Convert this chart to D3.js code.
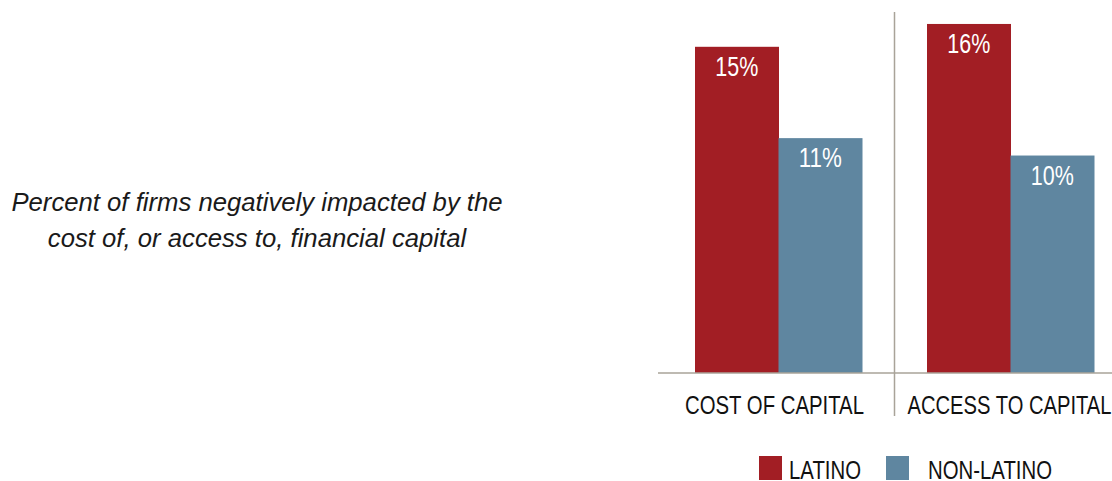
<!DOCTYPE html>
<html>
<head>
<meta charset="utf-8">
<script src="https://cdn.jsdelivr.net/npm/d3@7"></script>
<style>
  html, body { margin: 0; padding: 0; background: #fff; }
  svg { display: block; }
</style>
</head>
<body>
<svg id="chart" width="1112" height="481"></svg>
<script>
const categories = ["COST OF CAPITAL", "ACCESS TO CAPITAL"];
const seriesNames = ["LATINO", "NON-LATINO"];
const latino = [15, 16.05];
const nonLatino = [10.8, 10];
const titleLines = ["Percent of firms negatively impacted by the", "cost of, or access to, financial capital"];

const colors = { "LATINO": "#A21E24", "NON-LATINO": "#5F86A0" };
const data = categories.map((c, i) => ({ cat: c, values: [
  { key: "LATINO", v: latino[i] },
  { key: "NON-LATINO", v: nonLatino[i] }
]}));

const FONT = "'Liberation Sans', 'Arial', sans-serif";
const svg = d3.select("#chart");
const baseY = 373, topY = 12;

const x0 = d3.scaleBand().domain(categories).range([662.5, 1126.5]).padding(0);
const x1 = d3.scaleBand().domain(seriesNames).range([32.5, x0.bandwidth() - 32.5]).padding(0);
const y = d3.scaleLinear().domain([0, 16.6]).range([baseY, topY]);

// condense text to a target width, like the narrow face of the original
function condense(sel, widthFn) {
  sel.each(function(d, i) {
    const w = widthFn(d, i);
    d3.select(this).attr("textLength", w).attr("lengthAdjust", "spacingAndGlyphs");
  });
}

// bars
const g = svg.append("g");
const groups = g.selectAll("g.grp").data(data).enter().append("g")
  .attr("transform", d => `translate(${x0(d.cat)},0)`);
groups.selectAll("rect").data(d => d.values).enter().append("rect")
  .attr("x", d => x1(d.key))
  .attr("width", x1.bandwidth() + 0.5)
  .attr("y", d => y(d.v))
  .attr("height", d => y(0) - y(d.v))
  .attr("fill", d => colors[d.key]);
groups.selectAll("text.val").data(d => d.values).enter().append("text")
  .attr("class", "val")
  .attr("x", d => x1(d.key) + x1.bandwidth() / 2)
  .attr("y", d => y(d.v) + 29)
  .attr("text-anchor", "middle")
  .attr("fill", "#fff")
  .style("font-family", FONT)
  .style("font-size", "27px")
  .text(d => Math.round(d.v) + "%")
  .call(condense, () => 43);

// axis baseline
const axis = d3.axisBottom(x0).tickSize(0).tickPadding(0);
const ax = svg.append("g").attr("transform", `translate(0,${baseY})`).call(axis);
ax.select(".domain").remove();
ax.append("line").attr("x1", 658).attr("x2", 1112).attr("y1", 0).attr("y2", 0)
  .attr("stroke", "#A9A399").attr("stroke-width", 1.5);
const axisWidths = [179, 204];
ax.selectAll(".tick text")
  .attr("y", 41)
  .attr("dy", 0)
  .attr("x", (d, i) => i === 0 ? -4 : -1)
  .attr("fill", "#111")
  .style("font-family", FONT)
  .style("font-size", "26px")
  .call(condense, (d, i) => axisWidths[i]);

// divider
svg.append("line")
  .attr("x1", x0(categories[1])).attr("x2", x0(categories[1]))
  .attr("y1", topY).attr("y2", 416)
  .attr("stroke", "#A9A399").attr("stroke-width", 1.5);

// legend
const legend = svg.append("g");
const legendItems = [{ key: "LATINO", sx: 759, tx: 789, w: 72 }, { key: "NON-LATINO", sx: 886, tx: 928, w: 124 }];
legend.selectAll("rect").data(legendItems).enter().append("rect")
  .attr("x", d => d.sx).attr("y", 456).attr("width", 23).attr("height", 24)
  .attr("fill", d => colors[d.key]);
legend.selectAll("text").data(legendItems).enter().append("text")
  .attr("x", d => d.tx).attr("y", 479)
  .attr("fill", "#111")
  .style("font-family", FONT)
  .style("font-size", "26px")
  .text(d => d.key)
  .call(condense, d => d.w);

// title
svg.append("g").selectAll("text").data(titleLines).enter().append("text")
  .attr("x", 257).attr("y", (d, i) => 211 + i * 36)
  .attr("text-anchor", "middle")
  .attr("fill", "#1a1a1a")
  .style("font-family", FONT)
  .style("font-style", "italic")
  .style("font-size", "25.7px")
  .text(d => d);
</script>
</body>
</html>
